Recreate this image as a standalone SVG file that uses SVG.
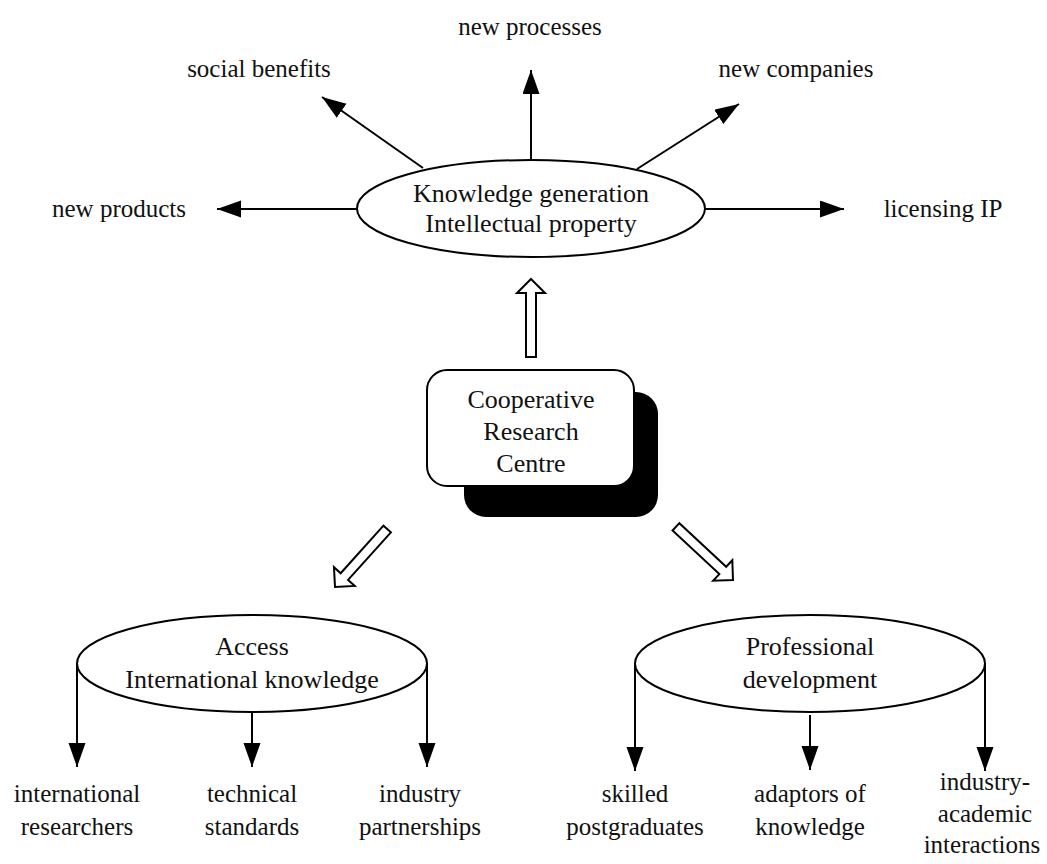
<svg xmlns="http://www.w3.org/2000/svg" width="1047" height="864" viewBox="0 0 1047 864">
<style>
text{font-family:"Liberation Serif","Times New Roman",serif;fill:#111;text-anchor:middle}
.lbl{font-size:25px}
.nd{font-size:26px}
.shape{fill:#fff;stroke:#000;stroke-width:2}
.conn{stroke:#000;stroke-width:2;fill:none;marker-end:url(#ah)}
.hollow{fill:#fff;stroke:#000;stroke-width:2;stroke-linejoin:miter}
</style>
<defs>
<marker id="ah" markerUnits="userSpaceOnUse" markerWidth="26" markerHeight="18" refX="24" refY="8.5" orient="auto">
<path d="M0,0 L24,8.5 L0,17 Z" fill="#000"/>
</marker>
<path id="hollowArrow" d="M0,0 L14,14 L5,14 L5,78 L-5,78 L-5,14 L-14,14 Z"/>
</defs>
<rect width="1047" height="864" fill="#fff"/>

<g id="connectors">
<line class="conn" x1="531" y1="160" x2="531" y2="70"/>
<line class="conn" x1="423" y1="168" x2="322" y2="97"/>
<line class="conn" x1="637" y1="169" x2="739" y2="104"/>
<line class="conn" x1="357" y1="209" x2="217" y2="209"/>
<line class="conn" x1="705" y1="209" x2="844" y2="209"/>
<line class="conn" x1="77" y1="663" x2="77" y2="767"/>
<line class="conn" x1="252" y1="712" x2="252" y2="767"/>
<line class="conn" x1="427" y1="663" x2="427" y2="767"/>
<line class="conn" x1="635" y1="663" x2="635" y2="771"/>
<line class="conn" x1="810" y1="715" x2="810" y2="770"/>
<line class="conn" x1="985" y1="663" x2="985" y2="771"/>
<use href="#hollowArrow" class="hollow" transform="translate(531,279)"/>
<use href="#hollowArrow" class="hollow" transform="translate(335,587) rotate(-138)"/>
<use href="#hollowArrow" class="hollow" transform="translate(733,580) rotate(133)"/>
</g>

<g id="knowledge">
<ellipse class="shape" cx="531" cy="208.5" rx="174" ry="48.5"/>
<text class="nd" x="531" y="202">Knowledge generation</text>
<text class="nd" x="531" y="232">Intellectual property</text>
</g>

<g id="crc">
<rect x="464" y="392" width="194" height="125" rx="22" fill="#000"/>
<rect class="shape" x="427" y="370" width="207" height="116" rx="20"/>
<text class="nd" x="531" y="408">Cooperative</text>
<text class="nd" x="531" y="440">Research</text>
<text class="nd" x="531" y="472">Centre</text>
</g>

<g id="access">
<ellipse class="shape" cx="252" cy="663.5" rx="175" ry="48.5"/>
<text class="nd" x="252" y="655">Access</text>
<text class="nd" x="252" y="688">International knowledge</text>
</g>

<g id="professional">
<ellipse class="shape" cx="810" cy="663.5" rx="175" ry="48.5"/>
<text class="nd" x="810" y="655">Professional</text>
<text class="nd" x="810" y="688">development</text>
</g>

<g id="labels">
<text class="lbl" x="530" y="35">new processes</text>
<text class="lbl" x="259" y="77">social benefits</text>
<text class="lbl" x="796" y="77">new companies</text>
<text class="lbl" x="119" y="217">new products</text>
<text class="lbl" x="943" y="217">licensing IP</text>
<text class="lbl" x="77" y="802">international</text>
<text class="lbl" x="77" y="835">researchers</text>
<text class="lbl" x="252" y="802">technical</text>
<text class="lbl" x="252" y="835">standards</text>
<text class="lbl" x="420" y="802">industry</text>
<text class="lbl" x="420" y="835">partnerships</text>
<text class="lbl" x="635" y="802">skilled</text>
<text class="lbl" x="635" y="835">postgraduates</text>
<text class="lbl" x="810" y="802">adaptors of</text>
<text class="lbl" x="810" y="835">knowledge</text>
<text class="lbl" x="985" y="790">industry-</text>
<text class="lbl" x="985" y="822">academic</text>
<text class="lbl" x="982" y="853">interactions</text>
</g>
</svg>
